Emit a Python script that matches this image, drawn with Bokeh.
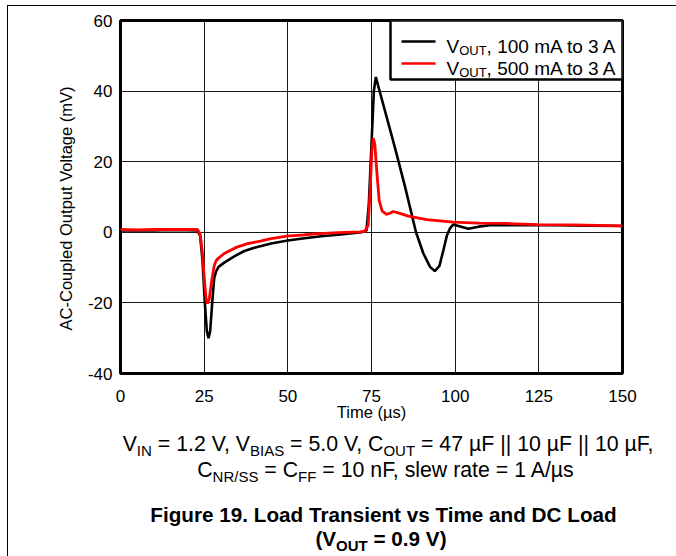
import math
from bokeh.plotting import figure
from bokeh.models import (FixedTicker, Range1d, BoxAnnotation, Label, Arrow, Div)
from bokeh.layouts import column
from bokeh.embed import file_html
from bokeh.resources import INLINE

# ---- data ----
t_black = [0, 5, 10, 15, 20, 23, 23.8, 24.5, 25.2, 25.8, 26.3, 26.8, 27.4, 28, 28.6,
           29.3, 31, 34, 37, 40, 45, 50, 55, 60, 65, 70, 72, 73.5, 74.2, 75,
           75.7, 76.3, 77, 80, 82, 85, 88.3, 90.5, 92.5, 93.9, 95.3, 96.5, 97.5, 98.5, 99.4,
           101, 103.9, 107, 110.3, 120, 130, 140, 150]
v_black = [0.5, 0.6, 0.5, 0.7, 0.6, 0.5, -1, -8, -20, -28, -30, -28, -20, -13, -11,
           -9.8, -8.6, -6.8, -5.3, -4.4, -3.2, -2.3, -1.7, -1.1, -0.7, -0.2, 0, 0.5, 8, 25,
           40, 44, 41.5, 31, 24, 13, 0, -6, -9.8, -11, -9.5, -5, -1, 1.2, 2.2,
           1.8, 1.0, 1.6, 2.0, 2.0, 2.0, 1.9, 1.8]

t_red = [0, 5, 10, 15, 20, 23, 23.8, 24.5, 25.2, 25.6, 26, 26.5, 27.2, 28, 28.6,
         29.3, 31, 34.8, 38, 41.8, 45, 49.7, 55, 59.6, 65, 71.6, 73, 74, 74.6, 75.1,
         75.5, 76, 76.6, 77.3, 78.2, 79.5, 80.5, 81.5, 83, 86, 91.5, 99.4, 107, 115.3, 125,
         135, 150]
v_red = [0.8, 0.7, 0.8, 0.8, 0.8, 0.8, -0.5, -6, -15, -19, -20.2, -19, -14, -9.5, -8,
         -7.3, -6, -4.2, -3.2, -2.5, -1.8, -1.1, -0.7, -0.4, -0.1, 0.1, 0.3, 2, 12, 23,
         26.7, 25, 17, 9, 6, 5.1, 5.4, 5.9, 5.5, 4.6, 3.6, 2.9, 2.6, 2.5, 2.2,
         2.1, 1.8]

x_ticks = [0, 25, 50, 75, 100, 125, 150]
y_ticks = [-40, -20, 0, 20, 40, 60]
x_label = "Time (µs)"
y_label = "AC-Coupled Output Voltage (mV)"
legend_rest = [", 100 mA to 3 A", ", 500 mA to 3 A"]
series_colors = ["#000000", "#ff0000"]

FONT = "Liberation Sans"

# ---- layout geometry (page px == canvas px) ----
PW, PH = 676, 556
W, H = PW, 427
FL, FR, FT, FB = 120, 622, 20, 373  # frame edges
X0, X1, Y0, Y1 = 0, 150, -40, 60

def cx(px):  # page px -> data x
    return X0 + (px - FL) * (X1 - X0) / (FR - FL)

def cy(py):  # page px -> data y
    return Y1 - (py - FT) * (Y1 - Y0) / (FB - FT)

p = figure(width=W, height=H, output_backend="svg", toolbar_location=None,
           x_range=Range1d(X0, X1), y_range=Range1d(Y0, Y1),
           min_border_left=FL, min_border_right=W - FR,
           min_border_top=FT, min_border_bottom=H - FB)
p.background_fill_color = "white"
p.border_fill_color = None
p.outline_line_color = "black"
p.outline_line_width = 3

p.xaxis.ticker = FixedTicker(ticks=x_ticks)
p.yaxis.ticker = FixedTicker(ticks=y_ticks)
p.yaxis.major_label_overrides = {t: str(t) for t in y_ticks}
for ax in (p.xaxis, p.yaxis):
    ax.axis_line_color = None
    ax.major_tick_line_color = None
    ax.minor_tick_line_color = None
    ax.major_tick_out = 0
    ax.major_tick_in = 0
    ax.major_label_text_font = FONT
    ax.major_label_text_font_size = "17px"
    ax.major_label_text_color = "black"
    ax.axis_label_text_font = FONT
    ax.axis_label_text_font_size = "16.5px"
    ax.axis_label_text_font_style = "normal"
    ax.axis_label_text_color = "black"
p.xaxis.major_label_standoff = 16
p.yaxis.major_label_standoff = 8
p.xaxis.axis_label = x_label
p.xaxis.axis_label_standoff = -2
p.yaxis.axis_label = y_label + "\u00a0" * 5
p.yaxis.axis_label_standoff = 10

p.grid.grid_line_color = "black"
p.grid.grid_line_width = 1
p.grid.grid_line_alpha = 0.9

p.line(t_black, v_black, line_color=series_colors[0], line_width=2.6)
p.line(t_red, v_red, line_color=series_colors[1], line_width=2.8)

# legend (manual, for subscripts)
p.add_layout(BoxAnnotation(left=cx(390), right=X1, top=Y1, bottom=cy(79),
                           fill_color="white", fill_alpha=1.0,
                           line_color="black", line_width=2.5, line_alpha=1.0))
for i, (rest, col) in enumerate(zip(legend_rest, series_colors)):
    base = 46 + 22 * i
    p.add_layout(Arrow(end=None, start=None, x_start=cx(401), x_end=cx(435),
                       y_start=cy(base - 5), y_end=cy(base - 5),
                       line_color=col, line_width=2.5))
    p.add_layout(Label(x=cx(446), y=cy(base), text="V", text_baseline="alphabetic",
                       text_font=FONT, text_font_size="19px", text_color="black"))
    p.add_layout(Label(x=cx(446 + 0.667 * 19), y=cy(base + 4), text="OUT",
                       text_baseline="alphabetic",
                       text_font=FONT, text_font_size="13px", text_color="black"))
    p.add_layout(Label(x=cx(446 + 0.667 * 19 + 2.111 * 13), y=cy(base), text=rest,
                       text_baseline="alphabetic",
                       text_font=FONT, text_font_size="19px", text_color="black"))

# caption
def sub(s):
    return f'<span style="font-size:15px;position:relative;top:5px">{s}</span>'

cap_lines = [
    f"V{sub('IN')} = 1.2 V, V{sub('BIAS')} = 5.0 V, C{sub('OUT')} = 47 µF || 10 µF || 10 µF,",
    f"C{sub('NR/SS')} = C{sub('FF')} = 10 nF, slew rate = 1 A/µs",
    "<b>Figure 19. Load Transient vs Time and DC Load</b>",
    f"<b>(V{sub('OUT')} = 0.9 V)</b>",
]
cap_centers = [383, 380.5, 378.5, 376]
cap_mid_y = [444, 470, 515, 539]
cap_sizes = ["21.3px", "21.3px", "20.7px", "20.7px"]
DH = PH - H
inner = "".join(
    f'<div style="position:absolute;left:{c - 320}px;width:640px;top:{my - H - 16}px;'
    f'text-align:center;font-size:{fs};line-height:22px;white-space:nowrap">{ln}</div>'
    for ln, c, my, fs in zip(cap_lines, cap_centers, cap_mid_y, cap_sizes))
div = Div(text=f'<div style="position:relative;width:{PW}px;height:{DH}px;overflow:hidden;'
               f'font-family:\'{FONT}\';color:black">{inner}</div>',
          width=PW, height=DH)

layout = column(p, div, styles={
    "background-image": "linear-gradient(#000,#000), linear-gradient(#000,#000)",
    "background-size": f"1px {PH}px, {PW}px 1px",
    "background-position": "7px 5px, 7px 5px",
    "background-repeat": "no-repeat",
    "background-color": "white",
})
open("out.html", "w").write(file_html(layout, INLINE))
